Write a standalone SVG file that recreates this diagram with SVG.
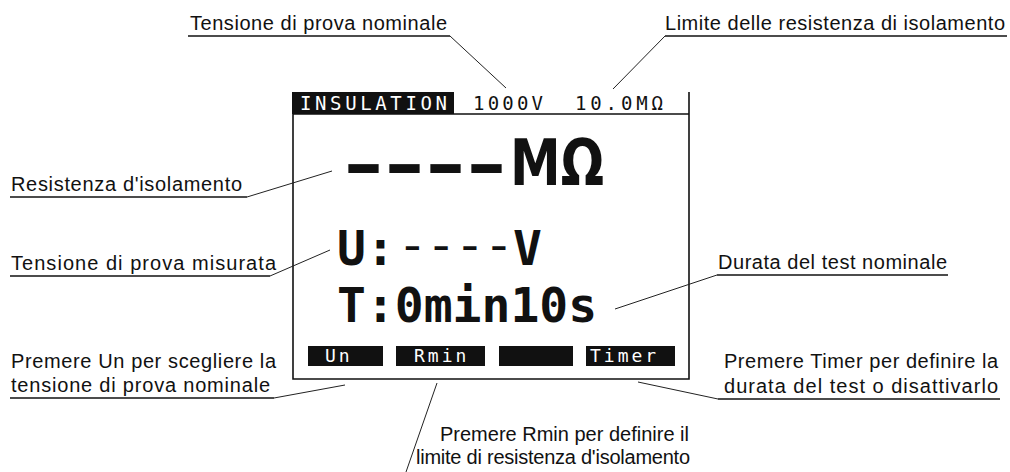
<svg xmlns="http://www.w3.org/2000/svg" width="1010" height="472" viewBox="0 0 1010 472">
<style>
.lbl{font-family:"Liberation Sans",Arial,sans-serif;font-size:20px;fill:#111}
.ul{stroke:#111;stroke-width:1.4;fill:none}
.ld{stroke:#222;stroke-width:1;fill:none}
.lcd{font-family:"DejaVu Sans Mono",monospace;fill:#111}
.inv{font-family:"DejaVu Sans Mono",monospace;fill:#fff}
.keytxt{font-family:"DejaVu Sans Mono",monospace;fill:#fff;font-size:18px;letter-spacing:3px}
.big{font-family:"DejaVu Sans Mono",monospace;font-weight:bold;font-size:48px;fill:#111}
.frame{stroke:#111;stroke-width:1.6;fill:none}
.key{fill:#111}
</style>
<rect width="1010" height="472" fill="#fff"/>
<g id="screen">
  <rect x="292" y="92" width="162" height="22" fill="#111"/>
  <path class="frame" d="M293 92 V379 H689 V92 M293 114 H689"/>
  <text class="inv" x="300" y="110" font-size="19" textLength="147">INSULATION</text>
  <text class="lcd" x="473" y="110" font-size="19" textLength="70">1000V</text>
  <text class="lcd" x="575" y="110" font-size="19" textLength="88">10.0MΩ</text>
  <text x="343" y="187" font-family="DejaVu Sans,sans-serif" font-weight="bold" font-size="62" fill="#111" textLength="164" lengthAdjust="spacingAndGlyphs">----</text>
  <text x="510" y="185" font-family="DejaVu Sans,sans-serif" font-weight="bold" font-size="64" fill="#111" textLength="94" lengthAdjust="spacingAndGlyphs">MΩ</text>
  <text class="big" x="337" y="265">U:</text>
  <text x="398" y="261" font-family="Liberation Mono,monospace" font-size="48" fill="#111">----</text>
  <text class="big" x="513" y="265">V</text>
  <text class="big" x="337" y="322">T:0min10s</text>
  <rect class="key" x="308" y="346" width="75" height="20"/>
  <rect class="key" x="396" y="346" width="89" height="20"/>
  <rect class="key" x="499" y="346" width="74" height="20"/>
  <rect class="key" x="586" y="346" width="89" height="20"/>
  <text class="keytxt" x="325" y="362">Un</text>
  <text class="keytxt" x="414" y="362">Rmin</text>
  <text class="keytxt" x="590" y="362">Timer</text>
</g>
<g id="connectors">
  <path class="ld" d="M450 36 L506 88"/>
  <path class="ld" d="M665 36 L613 89"/>
  <path class="ld" d="M247 197 L332 171"/>
  <path class="ld" d="M270 276 L330 250"/>
  <path class="ld" d="M717 275 L615 309"/>
  <path class="ld" d="M274 398 L345 385"/>
  <path class="ld" d="M437 383 L406 472"/>
  <path class="ld" d="M718 399 L638 382"/>
</g>
<g id="label-nominal-voltage">
  <text class="lbl" x="190" y="30" textLength="257">Tensione di prova nominale</text>
  <path class="ul" d="M188 36 H450"/>
</g>
<g id="label-limit">
  <text class="lbl" x="665" y="30" textLength="340">Limite delle resistenza di isolamento</text>
  <path class="ul" d="M665 36 H1007"/>
</g>
<g id="label-resistance">
  <text class="lbl" x="11" y="191" textLength="231">Resistenza d'isolamento</text>
  <path class="ul" d="M10 197 H247"/>
</g>
<g id="label-measured-voltage">
  <text class="lbl" x="11" y="270" textLength="265">Tensione di prova misurata</text>
  <path class="ul" d="M10 276 H270"/>
</g>
<g id="label-duration">
  <text class="lbl" x="718" y="269" textLength="229">Durata del test nominale</text>
  <path class="ul" d="M717 275 H948"/>
</g>
<g id="label-un">
  <text class="lbl" x="11" y="368" textLength="265">Premere Un per scegliere la</text>
  <text class="lbl" x="11" y="392" textLength="259">tensione di prova nominale</text>
  <path class="ul" d="M10 398 H274"/>
</g>
<g id="label-rmin">
  <text class="lbl" x="440" y="441" textLength="249">Premere Rmin per definire il</text>
  <text class="lbl" x="416" y="464" textLength="274">limite di resistenza d'isolamento</text>
</g>
<g id="label-timer">
  <text class="lbl" x="724" y="368" textLength="274">Premere Timer per definire la</text>
  <text class="lbl" x="724" y="393" textLength="274">durata del test o disattivarlo</text>
  <path class="ul" d="M718 399 H1000"/>
</g>
</svg>
